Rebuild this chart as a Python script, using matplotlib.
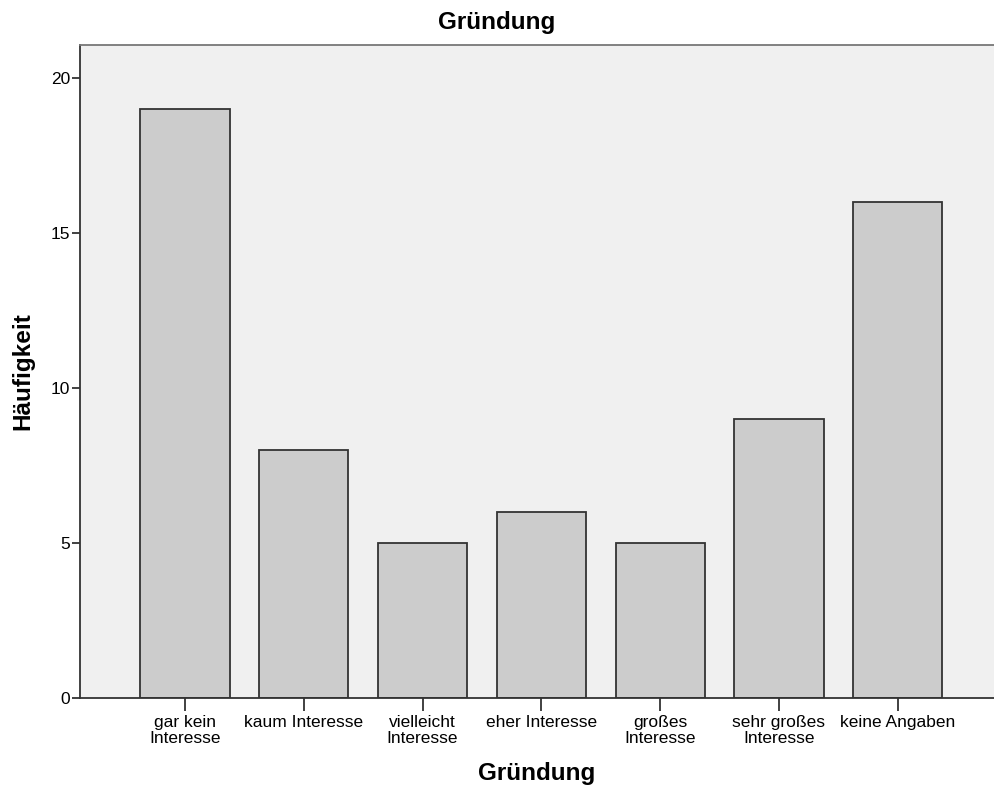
import matplotlib.pyplot as plt

plt.rcParams['font.family'] = ['Liberation Sans', 'DejaVu Sans']

# Kategorien und Häufigkeiten
kategorien = ['gar kein\nInteresse', 'kaum Interesse', 'vielleicht\nInteresse',
              'eher Interesse', 'großes\nInteresse', 'sehr großes\nInteresse',
              'keine Angaben']
haeufigkeit = [19, 8, 5, 6, 5, 9, 16]
y_ticks = [0, 5, 10, 15, 20]

fig = plt.figure(figsize=(9.94, 7.89), dpi=100)
ax = fig.add_axes([0.0805, 0.1153, 0.9195, 0.8277])
ax.set_facecolor('#f0f0f0')

x = list(range(len(kategorien)))
ax.bar(x, haeufigkeit, width=0.75, color='#cccccc', edgecolor='#333333', linewidth=1.3, zorder=2)

ax.set_xlim(-0.884, 6.81)
ax.set_ylim(0, 21.06)
ax.set_yticks(y_ticks)
ax.set_xticks(x)
ax.set_xticklabels(kategorien, fontsize=12.5, linespacing=1.08)
ax.tick_params(axis='y', labelsize=12.5, length=6, width=1.3, color='#333333', pad=1)
ax.tick_params(axis='x', length=9, width=1.3, color='#333333', pad=3)

for s in ['left', 'bottom', 'top']:
    ax.spines[s].set_color('#333333')
    ax.spines[s].set_linewidth(1.3)
ax.spines['top'].set_color('#777777')
ax.spines['right'].set_visible(False)

ax.set_xlabel('Gründung', fontsize=17.5, fontweight='bold', labelpad=12)
ax.set_ylabel('Häufigkeit', fontsize=17.5, fontweight='bold', labelpad=12)
fig.text(0.5, 0.972, 'Gründung', ha='center', va='center', fontsize=17.5, fontweight='bold')

fig.savefig('out.png', dpi=100)
